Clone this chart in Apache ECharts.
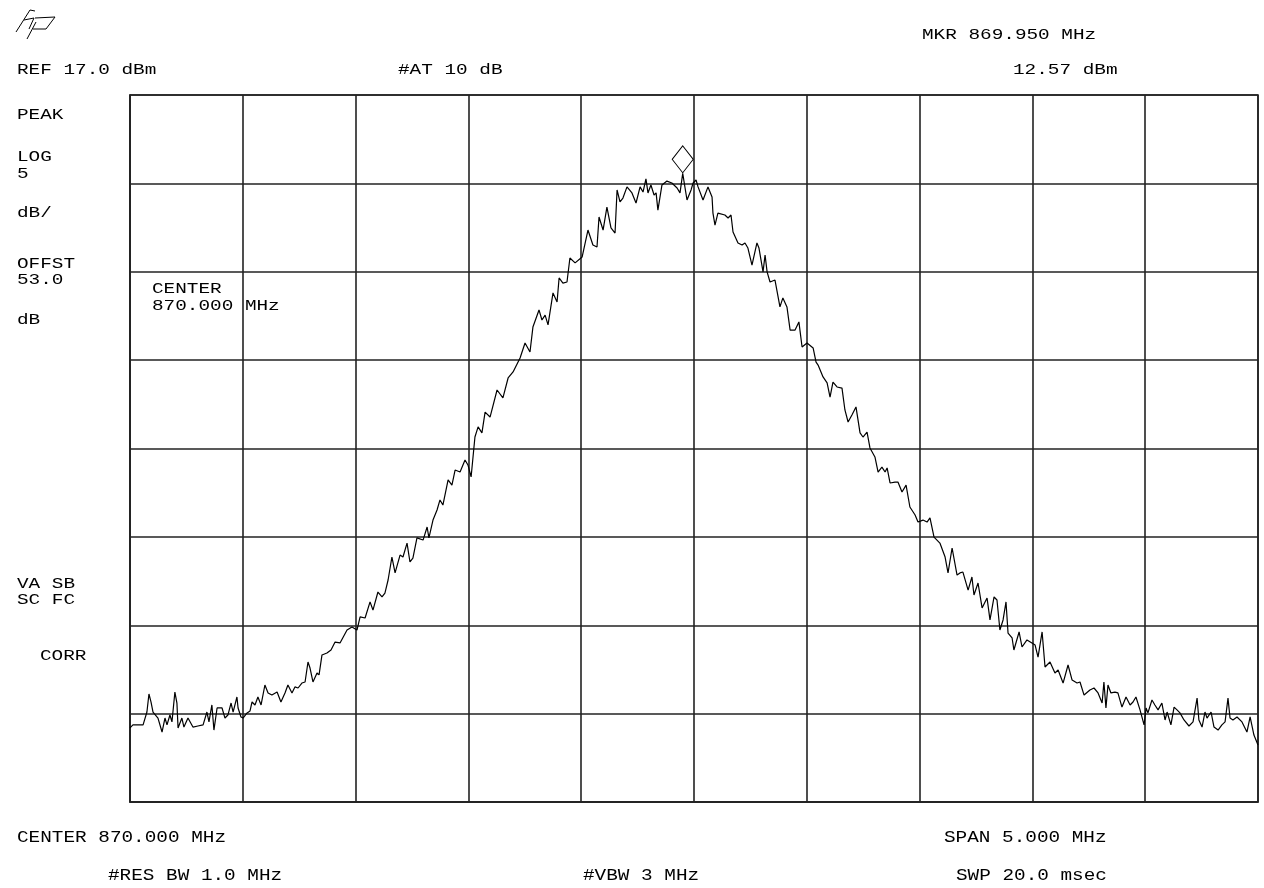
<!DOCTYPE html>
<html>
<head>
<meta charset="utf-8">
<script src="https://cdn.jsdelivr.net/npm/echarts@6/dist/echarts.min.js"></script>
<style>
  html, body { margin: 0; padding: 0; background: #fff; }
  #chart { width: 1264px; height: 888px; }
</style>
</head>
<body>
<div id="chart"></div>
<script>
// analyzer settings
var centerMHz = 870.0;
var spanMHz = 5.0;
var refDbm = 17.0;
var dbPerDiv = 5;
var marker = [869.950, 12.57];

// trace
var freqMHz = [
  867.500, 867.513, 867.558, 867.575, 867.584, 867.593, 867.602, 867.624, 867.642, 867.655,
  867.664, 867.677, 867.686, 867.699, 867.708, 867.713, 867.730, 867.739, 867.757, 867.779,
  867.801, 867.824, 867.841, 867.850, 867.863, 867.872, 867.886, 867.890, 867.908, 867.921,
  867.934, 867.948, 867.957, 867.974, 867.979, 867.992, 868.001, 868.019, 868.032, 868.041,
  868.054, 868.067, 868.081, 868.098, 868.112, 868.129, 868.152, 868.169, 868.187, 868.200,
  868.218, 868.231, 868.245, 868.262, 868.276, 868.289, 868.298, 868.311, 868.329, 868.338,
  868.351, 868.373, 868.391, 868.409, 868.431, 868.462, 868.484, 868.506, 868.520, 868.542,
  868.564, 868.577, 868.599, 868.617, 868.630, 868.644, 868.661, 868.675, 868.697, 868.710,
  868.728, 868.741, 868.754, 868.772, 868.799, 868.817, 868.825, 868.843, 868.861, 868.874,
  868.887, 868.910, 868.927, 868.941, 868.963, 868.985, 868.998, 869.012, 869.029, 869.043,
  869.060, 869.074, 869.096, 869.127, 869.153, 869.176, 869.198, 869.229, 869.251, 869.273,
  869.286, 869.313, 869.326, 869.340, 869.353, 869.375, 869.393, 869.402, 869.419, 869.437,
  869.450, 869.473, 869.504, 869.530, 869.552, 869.570, 869.579, 869.597, 869.614, 869.632,
  869.650, 869.659, 869.672, 869.685, 869.703, 869.725, 869.743, 869.761, 869.774, 869.787,
  869.796, 869.809, 869.823, 869.832, 869.840, 869.858, 869.880, 869.902, 869.925, 869.938,
  869.950, 869.969, 869.987, 869.996, 870.009, 870.018, 870.040, 870.062, 870.080, 870.084,
  870.093, 870.106, 870.137, 870.151, 870.164, 870.173, 870.195, 870.213, 870.226, 870.239,
  870.257, 870.279, 870.288, 870.306, 870.315, 870.324, 870.337, 870.359, 870.381, 870.394,
  870.412, 870.426, 870.448, 870.465, 870.479, 870.501, 870.528, 870.541, 870.550, 870.572,
  870.590, 870.603, 870.616, 870.634, 870.656, 870.669, 870.683, 870.700, 870.718, 870.736,
  870.749, 870.767, 870.780, 870.802, 870.816, 870.833, 870.847, 870.856, 870.869, 870.891,
  870.904, 870.922, 870.940, 870.957, 870.980, 870.993, 871.015, 871.033, 871.046, 871.064,
  871.090, 871.113, 871.126, 871.144, 871.166, 871.179, 871.192, 871.215, 871.232, 871.241,
  871.259, 871.277, 871.299, 871.312, 871.330, 871.343, 871.356, 871.370, 871.383, 871.392,
  871.410, 871.418, 871.441, 871.454, 871.476, 871.498, 871.512, 871.525, 871.543, 871.556,
  871.578, 871.600, 871.614, 871.636, 871.658, 871.676, 871.698, 871.711, 871.729, 871.755,
  871.773, 871.791, 871.809, 871.817, 871.826, 871.835, 871.848, 871.866, 871.879, 871.897,
  871.915, 871.933, 871.946, 871.959, 871.977, 871.995, 872.004, 872.012, 872.030, 872.043,
  872.057, 872.074, 872.088, 872.097, 872.114, 872.128, 872.141, 872.154, 872.172, 872.194,
  872.212, 872.230, 872.238, 872.252, 872.265, 872.274, 872.292, 872.305, 872.323, 872.340,
  872.354, 872.367, 872.376, 872.389, 872.407, 872.429, 872.451, 872.465, 872.482, 872.500
];
var levelDbm = [
  -18.81, -18.64, -18.64, -17.91, -16.89, -17.34, -17.91, -18.25, -19.04, -18.25,
  -18.64, -18.08, -18.47, -16.78, -17.40, -18.81, -18.25, -18.76, -18.25, -18.76,
  -18.70, -18.64, -17.91, -18.47, -17.51, -18.93, -17.68, -17.79, -17.68, -18.25,
  -18.08, -17.40, -17.91, -17.06, -17.68, -18.19, -18.25, -17.96, -17.85, -17.34,
  -17.51, -17.06, -17.51, -16.38, -16.83, -16.95, -16.78, -17.34, -16.83, -16.38,
  -16.83, -16.49, -16.55, -16.27, -16.21, -15.08, -15.42, -16.21, -15.70, -15.81,
  -14.68, -14.57, -14.40, -13.95, -14.00, -13.27, -13.10, -13.27, -12.53, -12.59,
  -11.68, -12.14, -11.12, -11.40, -11.18, -10.44, -9.14, -10.04, -9.03, -9.14,
  -8.35, -9.42, -9.20, -8.06, -8.18, -7.44, -8.06, -7.05, -6.48, -5.91,
  -6.20, -4.78, -5.07, -4.22, -4.33, -3.65, -3.93, -4.61, -2.35, -1.78,
  -2.12, -0.94, -1.22, 0.31, -0.14, 0.99, 1.33, 2.12, 2.97, 2.46,
  3.87, 4.84, 4.27, 4.55, 3.99, 5.80, 5.29, 6.65, 6.36, 6.42,
  7.78, 7.50, 7.83, 9.36, 8.51, 8.40, 10.10, 9.36, 10.66, 9.48,
  9.19, 11.63, 10.95, 11.17, 11.80, 11.46, 10.89, 11.80, 11.51, 12.25,
  11.46, 11.91, 11.34, 11.46, 10.49, 11.91, 12.13, 12.02, 11.74, 11.46,
  12.57, 11.06, 11.63, 12.02, 12.19, 11.80, 11.06, 11.80, 11.23, 10.32,
  9.64, 10.32, 10.21, 10.04, 10.21, 9.25, 8.63, 8.51, 8.63, 8.34,
  7.38, 8.63, 8.34, 6.99, 7.95, 6.99, 6.42, 6.53, 5.01, 5.52,
  5.01, 3.70, 3.70, 4.16, 2.74, 2.97, 2.69, 1.89, 1.72, 1.05,
  0.71, -0.09, 0.76, 0.48, 0.42, -0.82, -1.50, -1.10, -0.65, -2.12,
  -2.35, -2.07, -2.97, -3.48, -4.33, -4.05, -4.33, -4.10, -4.95, -4.90,
  -4.90, -5.46, -5.07, -6.31, -6.76, -7.16, -7.05, -7.16, -6.93, -8.01,
  -8.35, -9.14, -10.04, -8.63, -10.16, -10.04, -9.99, -11.01, -10.27, -11.29,
  -10.61, -12.02, -11.46, -12.70, -11.40, -11.57, -13.27, -12.70, -11.68, -13.44,
  -13.72, -14.40, -13.38, -14.23, -13.83, -14.00, -14.12, -14.80, -13.38, -15.36,
  -15.08, -15.70, -15.53, -16.27, -15.25, -16.10, -16.27, -16.21, -16.95, -16.66,
  -16.55, -16.83, -17.40, -16.21, -17.68, -16.38, -16.83, -16.78, -16.83, -17.63,
  -17.06, -17.51, -17.34, -17.06, -17.79, -18.64, -17.68, -17.96, -17.23, -17.51,
  -17.79, -17.40, -18.36, -17.91, -18.64, -17.63, -17.79, -17.96, -18.36, -18.70,
  -18.47, -17.12, -18.36, -18.76, -17.91, -18.25, -17.91, -18.76, -18.93, -18.64,
  -18.47, -17.12, -18.25, -18.36, -18.19, -18.47, -19.04, -18.19, -19.21, -19.78
];

var chart = echarts.init(document.getElementById('chart'));

var trace = freqMHz.map(function (f, i) { return [f, levelDbm[i]]; });

var FONT = '15px "Liberation Mono", "DejaVu Sans Mono", monospace';

// screen annotations (wide CRT-ish font)
function label(x, y, s) {
  return {
    type: 'text', x: x, y: y, scaleX: 1.29, z: 100,
    style: { text: s, font: FONT, fill: '#000', verticalAlign: 'middle' }
  };
}
// bottom lines: same pitch, a bit taller
function footer(x, y, s) {
  return {
    type: 'text', x: x, y: y, scaleX: 1.29, scaleY: 1.15, z: 100,
    style: { text: s, font: FONT, fill: '#000', verticalAlign: 'middle' }
  };
}

var texts = [
  label(922, 35, 'MKR 869.950 MHz'),
  label(17, 70, 'REF 17.0 dBm'),
  label(398, 70, '#AT 10 dB'),
  label(1013, 70, '12.57 dBm'),
  label(17, 115, 'PEAK'),
  label(17, 157, 'LOG'),
  label(17, 174, '5'),
  label(17, 213, 'dB/'),
  label(17, 264, 'OFFST'),
  label(17, 280, '53.0'),
  label(17, 320, 'dB'),
  label(152, 289, 'CENTER'),
  label(152, 306, '870.000 MHz'),
  label(17, 584, 'VA SB'),
  label(17, 600, 'SC FC'),
  label(40, 656, 'CORR'),
  footer(17, 837, 'CENTER 870.000 MHz'),
  footer(944, 837, 'SPAN 5.000 MHz'),
  footer(108, 875, '#RES BW 1.0 MHz'),
  footer(583, 875, '#VBW 3 MHz'),
  footer(956, 875, 'SWP 20.0 msec')
];

// hp logo
var logo = {
  type: 'group', x: 0, y: 0,
  children: [
    { type: 'polyline', shape: { points: [[16, 32], [30, 10], [35, 11]] }, style: { stroke: '#000', lineWidth: 1, fill: null } },
    { type: 'polyline', shape: { points: [[24, 20], [34, 18], [29, 29]] }, style: { stroke: '#000', lineWidth: 1, fill: null } },
    { type: 'polyline', shape: { points: [[35, 18], [55, 17], [46, 29], [33, 29]] }, style: { stroke: '#000', lineWidth: 1, fill: null } },
    { type: 'polyline', shape: { points: [[36, 22], [27, 39]] }, style: { stroke: '#000', lineWidth: 1, fill: null } }
  ]
};

var gridLine = { color: '#222', width: 1.6 };

var option = {
  animation: false,
  backgroundColor: '#fff',
  grid: { left: 130, right: 6, top: 95, bottom: 86, show: true, borderColor: '#222', borderWidth: 1.6 },
  xAxis: {
    type: 'value',
    min: centerMHz - spanMHz / 2,
    max: centerMHz + spanMHz / 2,
    interval: spanMHz / 10,
    axisLine: { show: true, onZero: false, lineStyle: gridLine },
    axisTick: { show: false },
    axisLabel: { show: false },
    splitLine: { show: true, lineStyle: gridLine }
  },
  yAxis: {
    type: 'value',
    min: refDbm - 8 * dbPerDiv,
    max: refDbm,
    interval: dbPerDiv,
    axisLine: { show: true, onZero: false, lineStyle: gridLine },
    axisTick: { show: false },
    axisLabel: { show: false },
    splitLine: { show: true, lineStyle: gridLine }
  },
  series: [{
    type: 'line',
    data: trace,
    showSymbol: false,
    symbol: 'none',
    lineStyle: { color: '#000', width: 1.2 },
    markPoint: {
      symbol: 'diamond',
      symbolSize: [21, 27],
      symbolOffset: [0, -14],
      itemStyle: { color: 'rgba(0,0,0,0)', borderColor: '#000', borderWidth: 1 },
      label: { show: false },
      data: [{ coord: marker }]
    }
  }],
  graphic: texts.concat([logo])
};

chart.setOption(option);
</script>
</body>
</html>
